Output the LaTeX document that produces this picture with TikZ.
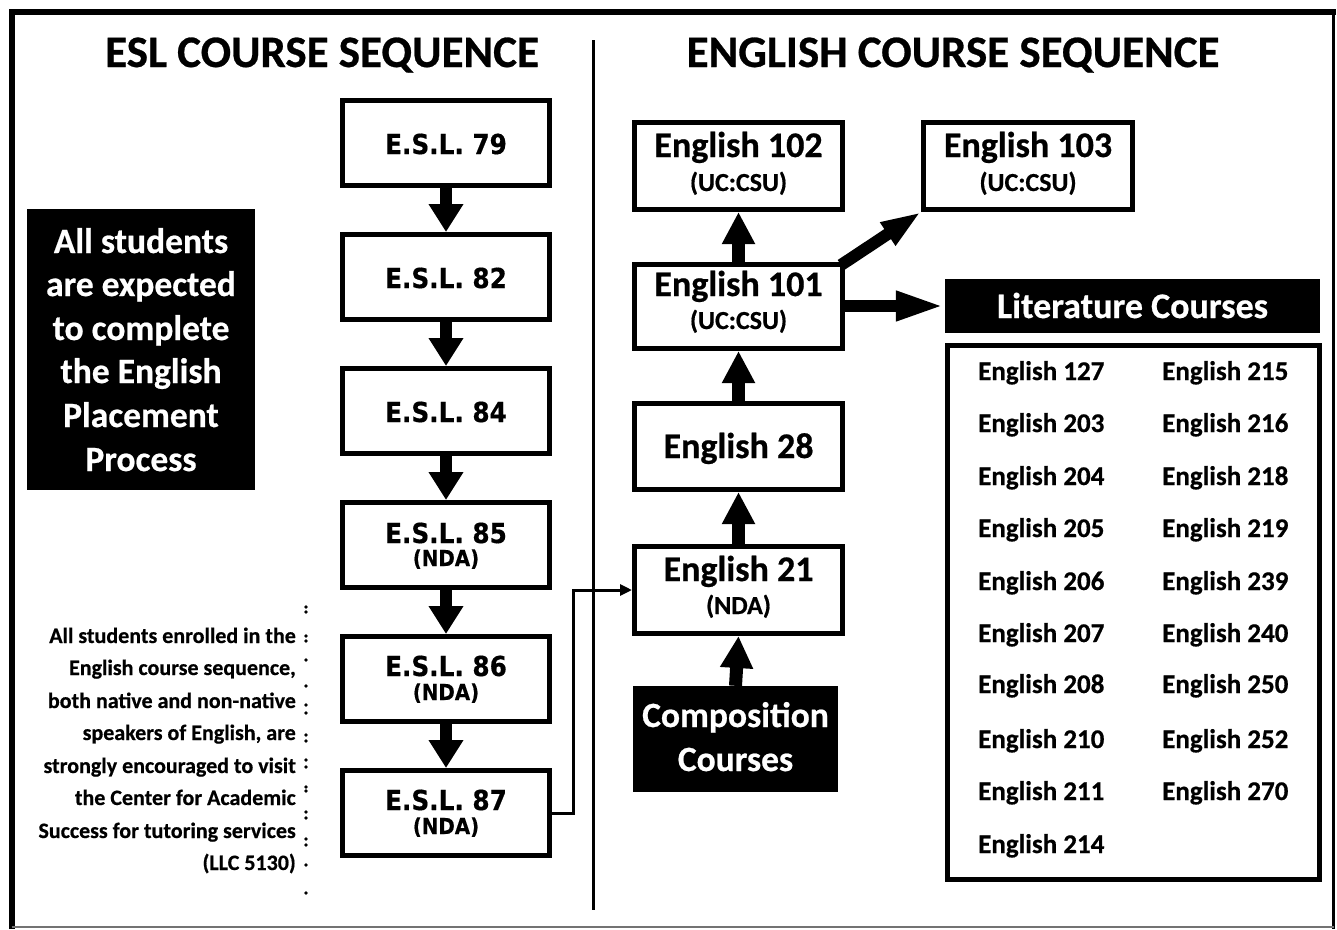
\documentclass[tikz,border=0pt]{standalone}
\usepackage{fontspec}
\setmainfont{Carlito}[FakeBold=0.6]
\newfontfamily\tahoma{DejaVu Sans}[FakeStretch=0.9,FakeBold=0.5]
\usetikzlibrary{arrows.meta}
\tikzset{
  box/.style={draw, line width=5pt, inner sep=0pt, fill=white},
  eslbox/.style={box, minimum width=207pt, minimum height=85pt},
  engbox/.style={box, minimum width=208pt, minimum height=87pt},
  blackbox/.style={fill=black, inner sep=0pt},
  eslt/.style={font=\tahoma\bfseries\fontsize{27.5}{30}\selectfont, anchor=base, inner sep=0pt},
  esls/.style={font=\tahoma\bfseries\fontsize{22}{24}\selectfont, anchor=base, inner sep=0pt},
  engt/.style={font=\bfseries\fontsize{36}{38}\selectfont, anchor=base, inner sep=0pt},
  engs/.style={font=\bfseries\fontsize{26}{28}\selectfont, anchor=base, inner sep=0pt},
  whitet/.style={font=\bfseries\fontsize{35.5}{38}\selectfont, text=white, anchor=base, inner sep=0pt},
  headt/.style={font=\bfseries\fontsize{45}{50}\selectfont, anchor=base, inner sep=0pt},
  litt/.style={font=\bfseries\fontsize{27}{29}\selectfont, anchor=base west, inner sep=0pt},
  smallt/.style={font=\bfseries\fontsize{22}{24}\selectfont, anchor=base east, inner sep=0pt},
  eslarrow/.style={line width=12pt, -{Triangle[length=28pt,width=33pt]}},
  engarrow/.style={line width=13pt, -{Triangle[length=32pt,width=31pt]}},
  sidearrow/.style={line width=12pt, -{Triangle[length=49pt,width=27pt]}},
  diagarrow/.style={line width=12pt, -{Triangle[length=40pt,width=25pt]}},
  thinarrow/.style={line width=3pt, -{Triangle[length=12pt,width=11pt]}},
}
\begin{document}
\begin{tikzpicture}[x=1pt,y=-1pt]
\fill[white] (0,0) rectangle (1337,929);
\path[use as bounding box] (0,0) rectangle (1337,929);
% frame
\draw[line width=6pt] (11.5,929) -- (11.5,11.5) -- (1336,11.5);
\draw[line width=2.5pt] (1333.5,11.5) -- (1333.5,929);
\draw[line width=2pt, black!55] (11.5,927) -- (1333.5,927);
% divider
\draw[line width=3pt] (593,40) -- (593,910);
% headings
\node[headt] (hesl) at (322,67) {ESL COURSE SEQUENCE};
\node[headt] (heng) at (953,67) {ENGLISH COURSE SEQUENCE};
% ESL boxes
\node[eslbox] (e79) at (446,143) {};
\node[eslbox] (e82) at (446,277) {};
\node[eslbox] (e84) at (446,411) {};
\node[eslbox] (e85) at (446,545) {};
\node[eslbox] (e86) at (446,679) {};
\node[eslbox] (e87) at (446,813) {};
\node[eslt] (t79) at (446,154) {E.S.L. 79};
\node[eslt] (t82) at (446,288) {E.S.L. 82};
\node[eslt] (t84) at (446,422) {E.S.L. 84};
\node[eslt] (t85) at (446,543) {E.S.L. 85};
\node[esls] (s85) at (446,566) {(NDA)};
\node[eslt] (t86) at (446,676) {E.S.L. 86};
\node[esls] (s86) at (446,700) {(NDA)};
\node[eslt] (t87) at (446,810) {E.S.L. 87};
\node[esls] (s87) at (446,834) {(NDA)};
\draw[eslarrow] (e79.south) -- (e82.north);
\draw[eslarrow] (e82.south) -- (e84.north);
\draw[eslarrow] (e84.south) -- (e85.north);
\draw[eslarrow] (e85.south) -- (e86.north);
\draw[eslarrow] (e86.south) -- (e87.north);
% All students box
\node[blackbox, minimum width=228pt, minimum height=281pt] (allbox) at (141,349.5) {};
\foreach \yy/\txt [count=\i] in {253/All students, 296/are expected, 340/to complete, 383/the English, 427/Placement, 471/Process}
  \node[whitet] (all\i) at (141,\yy) {\txt};
% small text
\foreach \yy/\txt [count=\i] in {643/All students enrolled in the, 675/{English course sequence,}, 708/both native and non-native, 740/{speakers of English, are}, 773/strongly encouraged to visit, 805/the Center for Academic, 838/Success for tutoring services, 870/(LLC 5130)}
  \node[smallt] (sm\i) at (296,\yy) {\txt};
\foreach \yy in {607,612,636,641,660,686,705,713,735,741,760,767,787,791,812,818,839,845,865,893}
  \fill (306,\yy) circle (1.8pt);
% English boxes
\node[engbox] (e102) at (738.5,166) {};
\node[engbox, minimum width=209pt] (e103) at (1028,166) {};
\node[engbox, minimum height=84pt] (e101) at (738.5,306.5) {};
\node[engbox, minimum height=86pt] (e28) at (738.5,446.5) {};
\node[engbox] (e21) at (738.5,590) {};
\node[engt] (t102) at (738.5,157) {English 102};
\node[engs] (s102) at (738.5,191) {(UC:CSU)};
\node[engt] (t103) at (1028,157) {English 103};
\node[engs] (s103) at (1028,191) {(UC:CSU)};
\node[engt] (t101) at (738.5,296) {English 101};
\node[engs] (s101) at (738.5,329) {(UC:CSU)};
\node[engt] (t28) at (738.5,458) {English 28};
\node[engt] (t21) at (738.5,581) {English 21};
\node[engs] (s21) at (738.5,614) {(NDA)};
\node[blackbox, minimum width=205pt, minimum height=106pt] (comp) at (735.5,739) {};
\node[whitet] (ct1) at (735.5,727) {Composition};
\node[whitet] (ct2) at (735.5,771) {Courses};
\node[blackbox, minimum width=375pt, minimum height=54pt] (lit) at (1132.5,306) {};
\node[whitet, font=\bfseries\fontsize{36}{38}\selectfont] (litl) at (1132.5,318) {Literature Courses};
\node[box, minimum width=372pt, minimum height=534pt] (litlist) at (1133.5,612.5) {};
% list
\foreach \yy/\a/\b [count=\i] in {380/127/215, 432/203/216, 485/204/218, 537/205/219, 590/206/239, 642/207/240, 693/208/250, 748/210/252, 800/211/270}{
  \node[litt] (la\i) at (978,\yy) {English \a};
  \node[litt] (lb\i) at (1162,\yy) {English \b};
}
\node[litt] (la10) at (978,853) {English 214};
% English arrows
\draw[engarrow] (e101.north) -- (e102.south);
\draw[engarrow] (e28.north) -- (e101.south);
\draw[engarrow] (e21.north) -- (e28.south);
\draw[engarrow] (comp.north) -- (e21.south);
\draw[diagarrow] ([xshift=-4pt,yshift=-3pt]e101.north east) -- (e103.south west);
\draw[sidearrow] (e101.east |- lit.west) -- (lit.west);
\draw[thinarrow] (e87.east) -- ++(21,0) |- (e21.west);
\end{tikzpicture}
\end{document}
